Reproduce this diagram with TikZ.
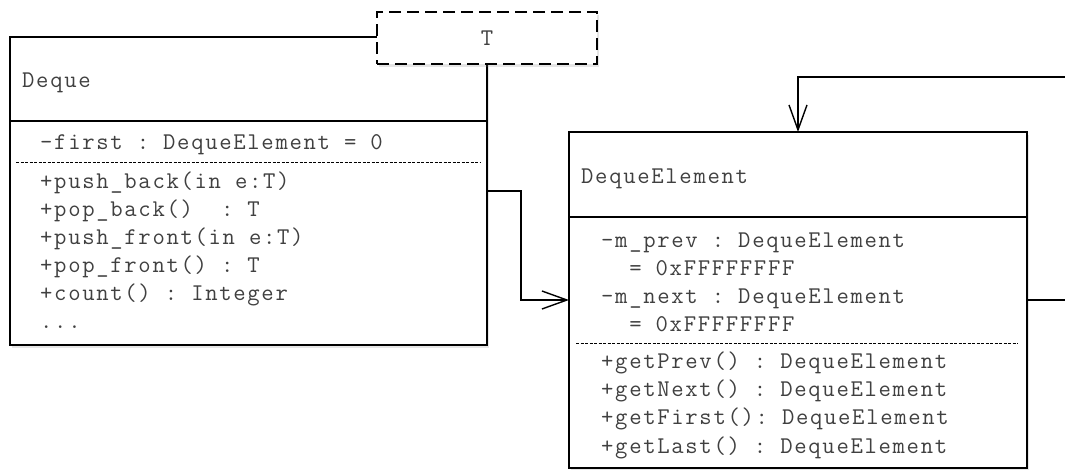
\documentclass[tikz,border=0pt]{standalone}
\usepackage{fontspec}
\setmonofont[LetterSpace=7]{Latin Modern Mono}
\usetikzlibrary{arrows.meta,shadows}

\begin{document}
\begin{tikzpicture}[x=1pt,y=-1pt]
      \tikzset{
        umlbox/.style={rectangle,draw,fill=white,line width=1.4pt,inner sep=0pt,outer sep=0pt,
          drop shadow={shadow xshift=2pt,shadow yshift=-3pt,opacity=0.2}},
        member/.style={anchor=base west,inner sep=0pt,text=black!75,font=\ttfamily\fontsize{24}{28}\selectfont},
        splitline/.style={line width=1pt,dash pattern=on 3pt off 1.5pt},
        assoc/.style={line width=1.4pt,-{Straight Barb[length=25pt,width=18pt,line width=1.4pt]}}
      }
      \clip (0,0) rectangle (1065,469);

      % classes
      \node[umlbox,minimum width=477pt,minimum height=308pt] (deque) at (248.5,191) {};
      \node[umlbox,minimum width=458pt,minimum height=336pt] (elem) at (798,300) {};
      \node[umlbox,dashed,dash pattern=on 12pt off 6pt,line width=1.8pt,
            minimum width=220pt,minimum height=52pt] (tparam) at (487,38) {};
      \node[member,anchor=center] (tname) at (tparam.center) {T};

      % compartments
      \draw[line width=1.4pt] ([yshift=-84pt]deque.north west) -- ([yshift=-84pt]deque.north east);
      \draw[line width=1.4pt] ([yshift=-85pt]elem.north west) -- ([yshift=-85pt]elem.north east);
      \draw[splitline] (16,162) -- (480,162);
      \draw[splitline] (576,343) -- (1018,343);

      % Deque
      \node[member] (dqname) at (22,87) {Deque};
      \node[member] (dqattr) at (40,149) {-first : DequeElement = 0};
      \foreach \txt [count=\i] in {+push\_back(in e:T),+pop\_back()\ \ : T,+push\_front(in e:T),
                                   +pop\_front() : T,+count() : Integer}
        \node[member] (dqop\i) at (40,160+28*\i) {\txt};
      \node[member] (dqmore) at (40,328) {...};

      % DequeElement
      \node[member] (elname) at (581,183) {DequeElement};
      \foreach \txt [count=\i] in {-m\_prev : DequeElement,\ \ = 0xFFFFFFFF,
                                   -m\_next : DequeElement,\ \ = 0xFFFFFFFF}
        \node[member] (elattr\i) at (601,219+28*\i) {\txt};
      \foreach \txt [count=\i] in {+getPrev() : DequeElement,+getNext() : DequeElement,
                                   +getFirst(): DequeElement,+getLast() : DequeElement}
        \node[member] (elop\i) at (601,340+28.3*\i) {\txt};

      % associations
      \coordinate (loop) at (1090,77);
      \draw[assoc] (deque.east) -- ++(34,0) |- (elem.west);
      \draw[assoc] (elem.east) -| (loop) -| (elem.north);
    \end{tikzpicture}
\end{document}
